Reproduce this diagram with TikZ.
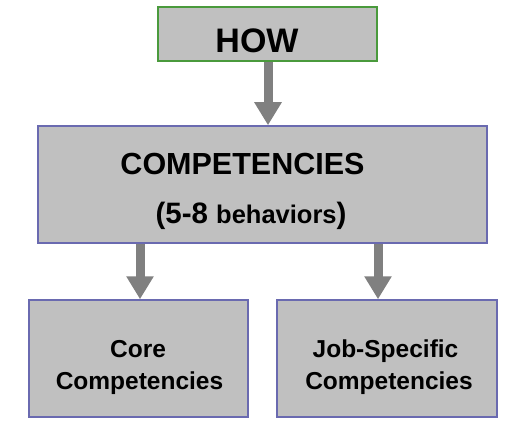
\documentclass[tikz,border=0pt]{standalone}
\usepackage{fontspec}
\setmainfont{Liberation Sans}
\usetikzlibrary{arrows.meta}
\definecolor{boxfill}{HTML}{C0C0C0}
\definecolor{greenline}{HTML}{4A9A3C}
\definecolor{blueline}{HTML}{6A6AB0}
\definecolor{arrowgray}{HTML}{808080}
\tikzset{
  box/.style={draw=blueline, fill=boxfill, line width=1.5pt, inner sep=0pt,
    rectangle},
  topbox/.style={box, draw=greenline},
  label/.style={anchor=base, inner sep=0pt, font=\bfseries},
  flow/.style={draw=arrowgray, line width=9pt,
    -{Triangle[width=26pt,length=23pt]}}
}
\begin{document}
\begin{tikzpicture}[x=1pt, y=-1pt]
  \useasboundingbox (0,0) rectangle (524,422);

  % boxes
  \node[topbox, minimum width=219pt, minimum height=54pt] (howbox) at (267.5,34) {};
  \node[box, minimum width=449pt, minimum height=117pt] (compbox) at (262.5,184.5) {};
  \node[box, minimum width=219pt, minimum height=117pt] (corebox) at (138.5,358.5) {};
  \node[box, minimum width=220pt, minimum height=117pt] (jobbox) at (387,358.5) {};

  % texts
  \node[label, font=\bfseries\fontsize{34}{40}\selectfont] (how) at (257,53) {HOW};
  \node[label, font=\bfseries\fontsize{30.5}{36}\selectfont] (comp) at (242.5,175) {COMPETENCIES};
  \node[label, font=\bfseries\fontsize{29.5}{36}\selectfont] (beh) at (251,223)
    {(5-8 {\fontsize{25.5}{30}\selectfont behaviors})};
  \node[label, font=\bfseries\fontsize{24.5}{30}\selectfont] (core1) at (138,357) {Core};
  \node[label, font=\bfseries\fontsize{24.5}{30}\selectfont] (core2) at (139.5,389) {Competencies};
  \node[label, font=\bfseries\fontsize{24.5}{30}\selectfont] (job1) at (385.5,357) {Job-Specific};
  \node[label, font=\bfseries\fontsize{24.5}{30}\selectfont] (job2) at (389,389) {Competencies};

  % arrows
  \draw[flow] ([xshift=0.5pt]howbox.south) -- ([xshift=0.5pt]howbox.south |- compbox.north);
  \draw[flow] ([xshift=1.5pt]corebox.north |- compbox.south) -- ([xshift=1.5pt]corebox.north);
  \draw[flow] ([xshift=-9pt]jobbox.north |- compbox.south) -- ([xshift=-9pt]jobbox.north);
\end{tikzpicture}
\end{document}
